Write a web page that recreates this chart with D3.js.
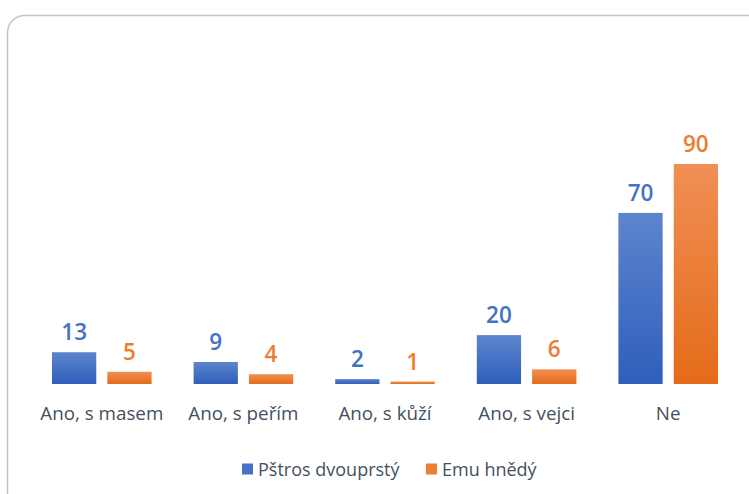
<!DOCTYPE html>
<html>
<head>
<meta charset="utf-8">
<script src="https://cdn.jsdelivr.net/npm/d3@7"></script>
<style>
  body { margin: 0; background: #fff; }
  svg { display: block; font-family: "Open Sans", "Noto Sans", sans-serif; }
</style>
</head>
<body>
<div id="chart"></div>
<script>
const W = 749, H = 494

// data
const categories = ["Ano, s masem", "Ano, s peřím", "Ano, s kůží", "Ano, s vejci", "Ne"]
const seriesNames = ["Pštros dvouprstý", "Emu hnědý"]
const pstros = [13, 9, 2, 20, 70]
const emu = [5, 4, 1, 6, 90]

const colors = ["#4472C4", "#ED7D31"]
const gradStops = [["#5d84cd", "#2f5fbb"], ["#f08f55", "#e46b19"]]

const rows = categories.map((c, i) => ({cat: c, vals: [pstros[i], emu[i]]}))

const svg = d3.select("#chart").append("svg")
  .attr("width", W)
  .attr("height", H)

const defs = svg.append("defs")
gradStops.forEach((s, i) => {
  const g = defs.append("linearGradient")
    .attr("id", "grad" + i)
    .attr("x1", 0).attr("y1", 0).attr("x2", 0).attr("y2", 1)
  g.append("stop").attr("offset", "0%").attr("stop-color", s[0])
  g.append("stop").attr("offset", "100%").attr("stop-color", s[1])
})

// chart frame
svg.append("rect")
  .attr("x", 7.5).attr("y", 15.5)
  .attr("width", 770).attr("height", 500)
  .attr("rx", 17).attr("ry", 17)
  .attr("fill", "none")
  .attr("stroke", "#c4c4c4")
  .attr("stroke-width", 1.5)

const baseline = 384
const x0 = d3.scaleBand()
  .domain(categories)
  .range([31, 739])
  .paddingInner(0)
  .paddingOuter(0)

const x1 = d3.scaleBand()
  .domain([0, 1])
  .range([21, x0.bandwidth() - 21])
  .paddingInner(0.2)

const y = d3.scaleLinear()
  .domain([0, 90])
  .range([baseline, 164])

const groups = svg.selectAll("g.grp")
  .data(rows)
  .join("g")
  .attr("class", "grp")
  .attr("transform", d => `translate(${x0(d.cat)},0)`)

groups.selectAll("rect")
  .data(d => d.vals.map((v, i) => ({v, i})))
  .join("rect")
  .attr("x", d => x1(d.i))
  .attr("y", d => y(d.v))
  .attr("width", x1.bandwidth())
  .attr("height", d => y(0) - y(d.v))
  .attr("fill", d => `url(#grad${d.i})`)

groups.selectAll("text.val")
  .data(d => d.vals.map((v, i) => ({v, i})))
  .join("text")
  .attr("class", "val")
  .attr("x", d => x1(d.i) + x1.bandwidth() / 2)
  .attr("y", d => y(d.v) - 12)
  .attr("text-anchor", "middle")
  .attr("font-size", 22.5)
  .attr("font-weight", 600)
  .attr("fill", d => colors[d.i])
  .text(d => d.v)

// category axis labels
const xAxis = d3.axisBottom(x0).tickSize(0).tickPadding(0)
const ax = svg.append("g")
  .attr("transform", `translate(0,${baseline})`)
  .call(xAxis)
ax.select(".domain").remove()
ax.selectAll("text")
  .attr("dy", 0)
  .attr("y", 36)
  .attr("font-size", 18.8)
  .attr("font-family", "\"Open Sans\", \"Noto Sans\", sans-serif")
  .attr("fill", "#44505f")

// legend
const legendX = [242, 426]
const leg = svg.selectAll("g.leg")
  .data(seriesNames)
  .join("g")
  .attr("class", "leg")
  .attr("transform", (d, i) => `translate(${legendX[i]},469)`)
leg.append("rect")
  .attr("x", 0).attr("y", -5.5)
  .attr("width", 11).attr("height", 11)
  .attr("fill", (d, i) => colors[i])
leg.append("text")
  .attr("x", 16).attr("y", 6.5)
  .attr("font-size", 18)
  .attr("fill", "#44505f")
  .text(d => d)
</script>
</body>
</html>
